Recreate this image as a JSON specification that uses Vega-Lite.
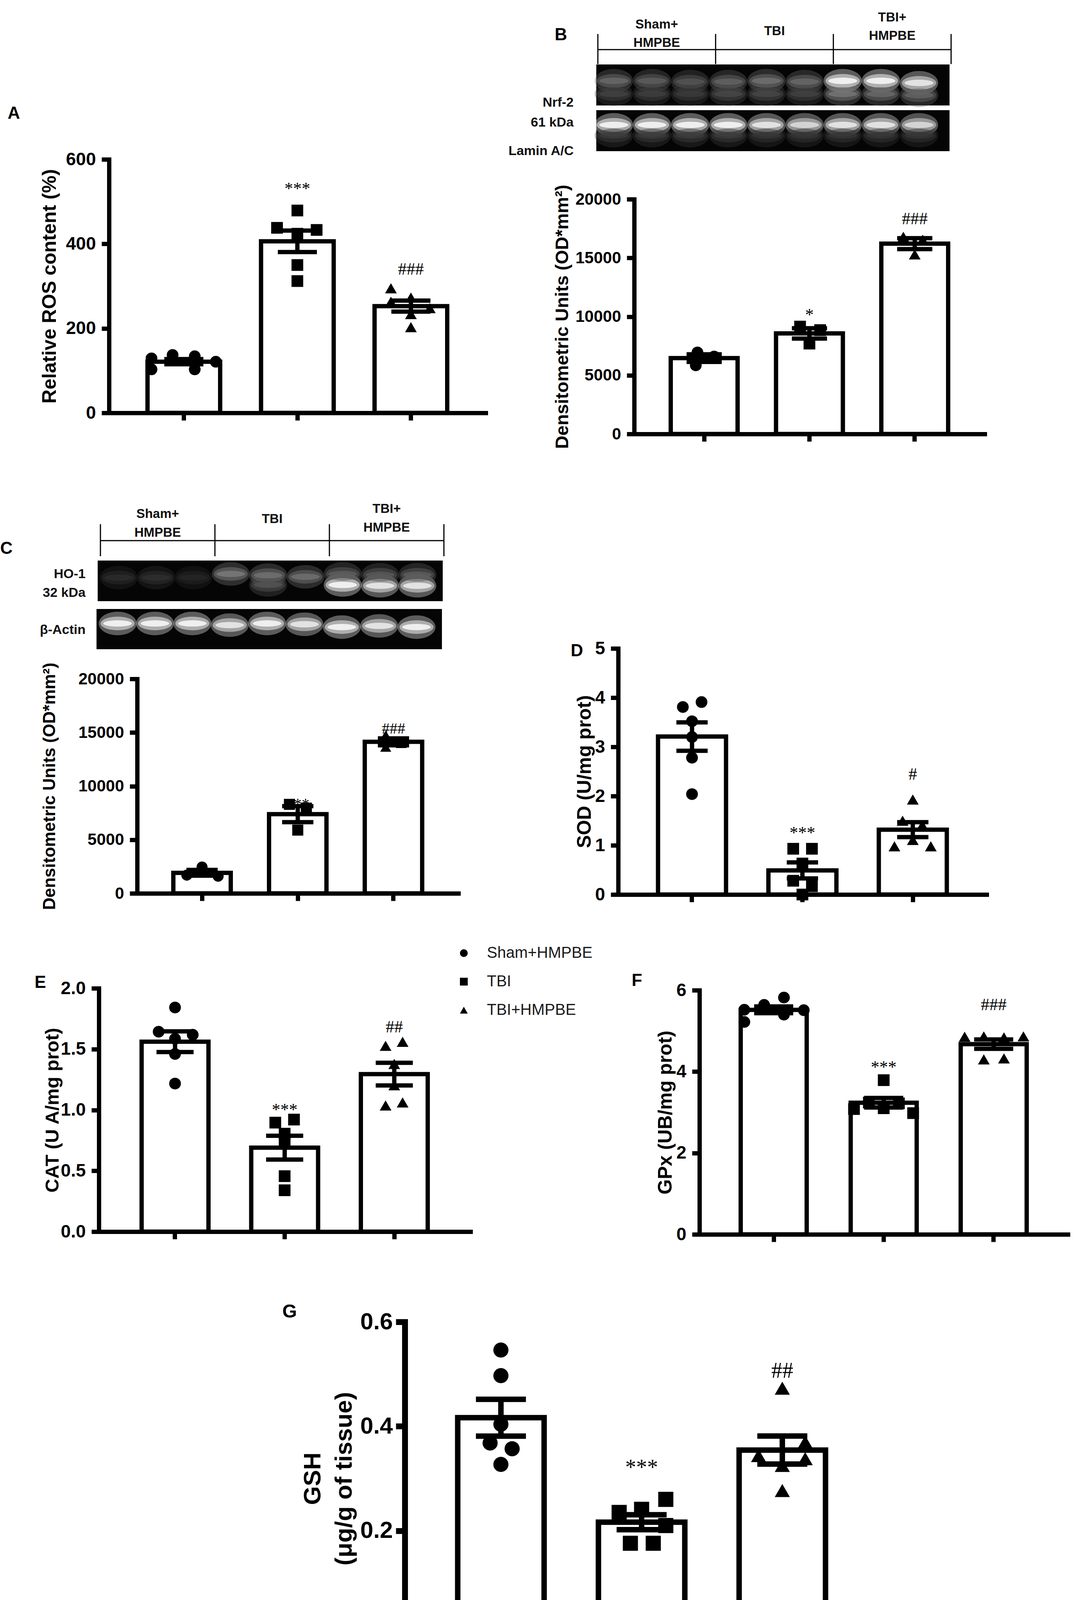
{
  "$schema": "https://vega.github.io/schema/vega-lite/v6.json",
  "width": 2769,
  "height": 4228,
  "autosize": {"type": "none"},
  "padding": 0,
  "background": "#ffffff",
  "config": {
    "font": "Liberation Sans",
    "view": {"stroke": null},
    "axis": {"domainColor": "#000", "domainWidth": 11, "domainCap": "square", "tickColor": "#000", "tickWidth": 11, "tickSize": 19, "labelColor": "#000", "labelFont": "Liberation Sans", "labelFontWeight": "bold", "labelFontSize": 46, "labelPadding": 15, "labelOverlap": false, "titleColor": "#000", "titleFont": "Liberation Sans", "titleFontWeight": "bold", "grid": false, "zindex": 1},
    "axisX": {"labels": false, "titleAlign": "left", "titleBaseline": "alphabetic", "titleFontSize": 44},
    "axisY": {"titleAngle": -90, "titleAlign": "center", "titleBaseline": "middle"}
  },
  "datasets": {
    "pts": [
      {"panel": "A", "group": "Sham+HMPBE", "value": 129, "jitter": -0.89},
      {"panel": "A", "group": "Sham+HMPBE", "value": 103, "jitter": -0.89},
      {"panel": "A", "group": "Sham+HMPBE", "value": 137, "jitter": -0.31},
      {"panel": "A", "group": "Sham+HMPBE", "value": 134, "jitter": 0.3},
      {"panel": "A", "group": "Sham+HMPBE", "value": 103, "jitter": 0.3},
      {"panel": "A", "group": "Sham+HMPBE", "value": 121, "jitter": 0.88},
      {"panel": "A", "group": "TBI", "value": 479, "jitter": 0},
      {"panel": "A", "group": "TBI", "value": 438, "jitter": -0.56},
      {"panel": "A", "group": "TBI", "value": 433, "jitter": 0.53},
      {"panel": "A", "group": "TBI", "value": 424, "jitter": 0},
      {"panel": "A", "group": "TBI", "value": 350, "jitter": 0},
      {"panel": "A", "group": "TBI", "value": 312, "jitter": 0},
      {"panel": "A", "group": "TBI+HMPBE", "value": 295, "jitter": -0.55},
      {"panel": "A", "group": "TBI+HMPBE", "value": 263, "jitter": -0.55},
      {"panel": "A", "group": "TBI+HMPBE", "value": 273, "jitter": 0},
      {"panel": "A", "group": "TBI+HMPBE", "value": 248, "jitter": 0.52},
      {"panel": "A", "group": "TBI+HMPBE", "value": 234, "jitter": 0},
      {"panel": "A", "group": "TBI+HMPBE", "value": 203, "jitter": 0},
      {"panel": "B", "group": "Sham+HMPBE", "value": 6950, "jitter": -0.2},
      {"panel": "B", "group": "Sham+HMPBE", "value": 6600, "jitter": 0.3},
      {"panel": "B", "group": "Sham+HMPBE", "value": 5850, "jitter": -0.25},
      {"panel": "B", "group": "TBI", "value": 9150, "jitter": -0.28},
      {"panel": "B", "group": "TBI", "value": 8850, "jitter": 0.32},
      {"panel": "B", "group": "TBI", "value": 7700, "jitter": 0},
      {"panel": "B", "group": "TBI+HMPBE", "value": 16800, "jitter": -0.34},
      {"panel": "B", "group": "TBI+HMPBE", "value": 16550, "jitter": 0.24},
      {"panel": "B", "group": "TBI+HMPBE", "value": 15300, "jitter": 0},
      {"panel": "C", "group": "Sham+HMPBE", "value": 2450, "jitter": 0},
      {"panel": "C", "group": "Sham+HMPBE", "value": 1700, "jitter": -0.53},
      {"panel": "C", "group": "Sham+HMPBE", "value": 1600, "jitter": 0.56},
      {"panel": "C", "group": "TBI", "value": 8300, "jitter": -0.29},
      {"panel": "C", "group": "TBI", "value": 7950, "jitter": 0.3},
      {"panel": "C", "group": "TBI", "value": 5900, "jitter": 0},
      {"panel": "C", "group": "TBI+HMPBE", "value": 14750, "jitter": -0.27},
      {"panel": "C", "group": "TBI+HMPBE", "value": 14000, "jitter": 0.27},
      {"panel": "C", "group": "TBI+HMPBE", "value": 13650, "jitter": -0.27},
      {"panel": "D", "group": "Sham+HMPBE", "value": 3.81, "jitter": -0.27},
      {"panel": "D", "group": "Sham+HMPBE", "value": 3.91, "jitter": 0.28},
      {"panel": "D", "group": "Sham+HMPBE", "value": 3.52, "jitter": 0},
      {"panel": "D", "group": "Sham+HMPBE", "value": 3.2, "jitter": 0},
      {"panel": "D", "group": "Sham+HMPBE", "value": 2.78, "jitter": 0},
      {"panel": "D", "group": "Sham+HMPBE", "value": 2.04, "jitter": 0},
      {"panel": "D", "group": "TBI", "value": 0.93, "jitter": -0.27},
      {"panel": "D", "group": "TBI", "value": 0.93, "jitter": 0.28},
      {"panel": "D", "group": "TBI", "value": 0.63, "jitter": 0},
      {"panel": "D", "group": "TBI", "value": 0.28, "jitter": -0.27},
      {"panel": "D", "group": "TBI", "value": 0.17, "jitter": 0.28},
      {"panel": "D", "group": "TBI", "value": 0.0, "jitter": 0},
      {"panel": "D", "group": "TBI+HMPBE", "value": 1.93, "jitter": 0},
      {"panel": "D", "group": "TBI+HMPBE", "value": 1.5, "jitter": -0.3},
      {"panel": "D", "group": "TBI+HMPBE", "value": 1.41, "jitter": 0.28},
      {"panel": "D", "group": "TBI+HMPBE", "value": 1.11, "jitter": 0},
      {"panel": "D", "group": "TBI+HMPBE", "value": 0.98, "jitter": -0.54},
      {"panel": "D", "group": "TBI+HMPBE", "value": 0.98, "jitter": 0.53},
      {"panel": "E", "group": "Sham+HMPBE", "value": 1.842, "jitter": 0},
      {"panel": "E", "group": "Sham+HMPBE", "value": 1.643, "jitter": -0.49},
      {"panel": "E", "group": "Sham+HMPBE", "value": 1.618, "jitter": 0.53},
      {"panel": "E", "group": "Sham+HMPBE", "value": 1.585, "jitter": 0},
      {"panel": "E", "group": "Sham+HMPBE", "value": 1.46, "jitter": 0},
      {"panel": "E", "group": "Sham+HMPBE", "value": 1.217, "jitter": 0},
      {"panel": "E", "group": "TBI", "value": 0.896, "jitter": -0.28},
      {"panel": "E", "group": "TBI", "value": 0.921, "jitter": 0.28},
      {"panel": "E", "group": "TBI", "value": 0.805, "jitter": 0},
      {"panel": "E", "group": "TBI", "value": 0.722, "jitter": 0},
      {"panel": "E", "group": "TBI", "value": 0.456, "jitter": 0},
      {"panel": "E", "group": "TBI", "value": 0.34, "jitter": 0},
      {"panel": "E", "group": "TBI+HMPBE", "value": 1.527, "jitter": -0.26},
      {"panel": "E", "group": "TBI+HMPBE", "value": 1.56, "jitter": 0.25},
      {"panel": "E", "group": "TBI+HMPBE", "value": 1.378, "jitter": 0},
      {"panel": "E", "group": "TBI+HMPBE", "value": 1.203, "jitter": 0},
      {"panel": "E", "group": "TBI+HMPBE", "value": 1.062, "jitter": 0.25},
      {"panel": "E", "group": "TBI+HMPBE", "value": 1.037, "jitter": -0.26},
      {"panel": "F", "group": "Sham+HMPBE", "value": 5.82, "jitter": 0.31},
      {"panel": "F", "group": "Sham+HMPBE", "value": 5.64, "jitter": -0.29},
      {"panel": "F", "group": "Sham+HMPBE", "value": 5.52, "jitter": -0.89},
      {"panel": "F", "group": "Sham+HMPBE", "value": 5.51, "jitter": 0.91},
      {"panel": "F", "group": "Sham+HMPBE", "value": 5.4, "jitter": 0.31},
      {"panel": "F", "group": "Sham+HMPBE", "value": 5.22, "jitter": -0.89},
      {"panel": "F", "group": "TBI", "value": 3.79, "jitter": 0},
      {"panel": "F", "group": "TBI", "value": 3.24, "jitter": -0.45},
      {"panel": "F", "group": "TBI", "value": 3.22, "jitter": 0.46},
      {"panel": "F", "group": "TBI", "value": 3.1, "jitter": 0},
      {"panel": "F", "group": "TBI", "value": 3.08, "jitter": -0.9},
      {"panel": "F", "group": "TBI", "value": 2.98, "jitter": 0.89},
      {"panel": "F", "group": "TBI+HMPBE", "value": 4.857, "jitter": -0.88},
      {"panel": "F", "group": "TBI+HMPBE", "value": 4.866, "jitter": -0.3},
      {"panel": "F", "group": "TBI+HMPBE", "value": 4.84, "jitter": 0.31},
      {"panel": "F", "group": "TBI+HMPBE", "value": 4.866, "jitter": 0.9},
      {"panel": "F", "group": "TBI+HMPBE", "value": 4.3, "jitter": -0.3},
      {"panel": "F", "group": "TBI+HMPBE", "value": 4.325, "jitter": 0.31},
      {"panel": "G", "group": "Sham+HMPBE", "value": 0.546, "jitter": 0},
      {"panel": "G", "group": "Sham+HMPBE", "value": 0.497, "jitter": 0},
      {"panel": "G", "group": "Sham+HMPBE", "value": 0.404, "jitter": 0},
      {"panel": "G", "group": "Sham+HMPBE", "value": 0.368, "jitter": -0.25},
      {"panel": "G", "group": "Sham+HMPBE", "value": 0.357, "jitter": 0.26},
      {"panel": "G", "group": "Sham+HMPBE", "value": 0.327, "jitter": 0},
      {"panel": "G", "group": "TBI", "value": 0.26, "jitter": 0.56},
      {"panel": "G", "group": "TBI", "value": 0.241, "jitter": 0},
      {"panel": "G", "group": "TBI", "value": 0.235, "jitter": -0.52},
      {"panel": "G", "group": "TBI", "value": 0.21, "jitter": 0.56},
      {"panel": "G", "group": "TBI", "value": 0.176, "jitter": -0.26},
      {"panel": "G", "group": "TBI", "value": 0.176, "jitter": 0.27},
      {"panel": "G", "group": "TBI+HMPBE", "value": 0.473, "jitter": 0},
      {"panel": "G", "group": "TBI+HMPBE", "value": 0.37, "jitter": 0.53},
      {"panel": "G", "group": "TBI+HMPBE", "value": 0.344, "jitter": -0.55},
      {"panel": "G", "group": "TBI+HMPBE", "value": 0.338, "jitter": 0.53},
      {"panel": "G", "group": "TBI+HMPBE", "value": 0.325, "jitter": 0},
      {"panel": "G", "group": "TBI+HMPBE", "value": 0.277, "jitter": 0}
    ],
    "ann": [
      {"panel": "A", "group": "TBI", "label": "***", "y": 530},
      {"panel": "A", "group": "TBI+HMPBE", "label": "###", "y": 339},
      {"panel": "B", "group": "TBI", "label": "*", "y": 10100},
      {"panel": "B", "group": "TBI+HMPBE", "label": "###", "y": 18295},
      {"panel": "C", "group": "TBI", "label": "***", "y": 8300},
      {"panel": "C", "group": "TBI+HMPBE", "label": "###", "y": 15320},
      {"panel": "D", "group": "TBI", "label": "***", "y": 1.25},
      {"panel": "D", "group": "TBI+HMPBE", "label": "#", "y": 2.44},
      {"panel": "E", "group": "TBI", "label": "***", "y": 1.0},
      {"panel": "E", "group": "TBI+HMPBE", "label": "##", "y": 1.68},
      {"panel": "F", "group": "TBI", "label": "***", "y": 4.1},
      {"panel": "F", "group": "TBI+HMPBE", "label": "###", "y": 5.64},
      {"panel": "G", "group": "TBI", "label": "***", "y": 0.32},
      {"panel": "G", "group": "TBI+HMPBE", "label": "##", "y": 0.506}
    ],
    "bands": [
      {"blot": "Nrf-2", "lane": 1, "rf": 0.4, "intensity": 0.45},
      {"blot": "Nrf-2", "lane": 2, "rf": 0.4, "intensity": 0.4},
      {"blot": "Nrf-2", "lane": 3, "rf": 0.42, "intensity": 0.36},
      {"blot": "Nrf-2", "lane": 4, "rf": 0.42, "intensity": 0.42},
      {"blot": "Nrf-2", "lane": 5, "rf": 0.4, "intensity": 0.48},
      {"blot": "Nrf-2", "lane": 6, "rf": 0.42, "intensity": 0.45},
      {"blot": "Nrf-2", "lane": 7, "rf": 0.4, "intensity": 1.0},
      {"blot": "Nrf-2", "lane": 8, "rf": 0.4, "intensity": 1.0},
      {"blot": "Nrf-2", "lane": 9, "rf": 0.45, "intensity": 0.95},
      {"blot": "Nrf-2", "lane": 1, "rf": 0.72, "intensity": 0.28},
      {"blot": "Nrf-2", "lane": 2, "rf": 0.72, "intensity": 0.27},
      {"blot": "Nrf-2", "lane": 3, "rf": 0.72, "intensity": 0.25},
      {"blot": "Nrf-2", "lane": 4, "rf": 0.72, "intensity": 0.3},
      {"blot": "Nrf-2", "lane": 5, "rf": 0.72, "intensity": 0.3},
      {"blot": "Nrf-2", "lane": 6, "rf": 0.72, "intensity": 0.28},
      {"blot": "Nrf-2", "lane": 7, "rf": 0.72, "intensity": 0.5},
      {"blot": "Nrf-2", "lane": 8, "rf": 0.72, "intensity": 0.45},
      {"blot": "Nrf-2", "lane": 9, "rf": 0.75, "intensity": 0.42},
      {"blot": "Lamin A/C", "lane": 1, "rf": 0.36, "intensity": 1.0},
      {"blot": "Lamin A/C", "lane": 2, "rf": 0.36, "intensity": 1.0},
      {"blot": "Lamin A/C", "lane": 3, "rf": 0.36, "intensity": 1.0},
      {"blot": "Lamin A/C", "lane": 4, "rf": 0.36, "intensity": 1.0},
      {"blot": "Lamin A/C", "lane": 5, "rf": 0.36, "intensity": 0.95},
      {"blot": "Lamin A/C", "lane": 6, "rf": 0.36, "intensity": 0.9},
      {"blot": "Lamin A/C", "lane": 7, "rf": 0.36, "intensity": 0.95},
      {"blot": "Lamin A/C", "lane": 8, "rf": 0.36, "intensity": 0.95},
      {"blot": "Lamin A/C", "lane": 9, "rf": 0.36, "intensity": 0.9},
      {"blot": "Lamin A/C", "lane": 1, "rf": 0.62, "intensity": 0.25},
      {"blot": "Lamin A/C", "lane": 2, "rf": 0.62, "intensity": 0.25},
      {"blot": "Lamin A/C", "lane": 3, "rf": 0.62, "intensity": 0.25},
      {"blot": "Lamin A/C", "lane": 4, "rf": 0.62, "intensity": 0.25},
      {"blot": "Lamin A/C", "lane": 5, "rf": 0.62, "intensity": 0.22},
      {"blot": "Lamin A/C", "lane": 6, "rf": 0.62, "intensity": 0.22},
      {"blot": "Lamin A/C", "lane": 7, "rf": 0.62, "intensity": 0.22},
      {"blot": "Lamin A/C", "lane": 8, "rf": 0.62, "intensity": 0.22},
      {"blot": "Lamin A/C", "lane": 9, "rf": 0.62, "intensity": 0.22},
      {"blot": "HO-1", "lane": 1, "rf": 0.42, "intensity": 0.18},
      {"blot": "HO-1", "lane": 2, "rf": 0.42, "intensity": 0.2},
      {"blot": "HO-1", "lane": 3, "rf": 0.42, "intensity": 0.15},
      {"blot": "HO-1", "lane": 4, "rf": 0.33, "intensity": 0.52},
      {"blot": "HO-1", "lane": 5, "rf": 0.36, "intensity": 0.48},
      {"blot": "HO-1", "lane": 5, "rf": 0.6, "intensity": 0.35},
      {"blot": "HO-1", "lane": 6, "rf": 0.4, "intensity": 0.48},
      {"blot": "HO-1", "lane": 7, "rf": 0.6, "intensity": 1.0},
      {"blot": "HO-1", "lane": 8, "rf": 0.62, "intensity": 0.95},
      {"blot": "HO-1", "lane": 9, "rf": 0.62, "intensity": 0.95},
      {"blot": "HO-1", "lane": 7, "rf": 0.33, "intensity": 0.4},
      {"blot": "HO-1", "lane": 8, "rf": 0.35, "intensity": 0.38},
      {"blot": "HO-1", "lane": 9, "rf": 0.35, "intensity": 0.4},
      {"blot": "β-Actin", "lane": 1, "rf": 0.36, "intensity": 1.0},
      {"blot": "β-Actin", "lane": 2, "rf": 0.36, "intensity": 1.0},
      {"blot": "β-Actin", "lane": 3, "rf": 0.36, "intensity": 1.0},
      {"blot": "β-Actin", "lane": 4, "rf": 0.4, "intensity": 0.95},
      {"blot": "β-Actin", "lane": 5, "rf": 0.36, "intensity": 1.0},
      {"blot": "β-Actin", "lane": 6, "rf": 0.38, "intensity": 0.95},
      {"blot": "β-Actin", "lane": 7, "rf": 0.45, "intensity": 1.0},
      {"blot": "β-Actin", "lane": 8, "rf": 0.42, "intensity": 0.95},
      {"blot": "β-Actin", "lane": 9, "rf": 0.45, "intensity": 1.0}
    ],
    "hdr": [
      {"blot": "B", "group": "Sham+HMPBE", "lane": 2, "text": ["Sham+", "HMPBE"]},
      {"blot": "B", "group": "TBI", "lane": 5, "text": ["TBI"]},
      {"blot": "B", "group": "TBI+HMPBE", "lane": 8, "text": ["TBI+", "HMPBE"]},
      {"blot": "C", "group": "Sham+HMPBE", "lane": 2, "text": ["Sham+", "HMPBE"]},
      {"blot": "C", "group": "TBI", "lane": 5, "text": ["TBI"]},
      {"blot": "C", "group": "TBI+HMPBE", "lane": 8, "text": ["TBI+", "HMPBE"]}
    ],
    "bnd": [
      {"blot": "B", "b": 0.5}, {"blot": "B", "b": 3.5}, {"blot": "B", "b": 6.5}, {"blot": "B", "b": 9.5},
      {"blot": "C", "b": 0.5}, {"blot": "C", "b": 3.5}, {"blot": "C", "b": 6.5}, {"blot": "C", "b": 9.5}
    ],
    "lbl": [
      {"blot": "B", "key": "Nrf-2", "label": ["Nrf-2", "61 kDa"]},
      {"blot": "B", "key": "Lamin A/C", "label": "Lamin A/C"},
      {"blot": "C", "key": "HO-1", "label": ["HO-1", "32 kDa"]},
      {"blot": "C", "key": "β-Actin", "label": "β-Actin"}
    ]
  },
  "resolve": {
    "scale": {"x": "independent", "y": "independent", "xOffset": "independent", "shape": "independent", "color": "independent"},
    "axis": {"x": "independent", "y": "independent"},
    "legend": {"shape": "independent", "color": "independent"}
  },
  "layer": [
    {
      "data": {"name": "pts"},
      "transform": [{"filter": "datum.panel === 'A'"}],
      "resolve": {"scale": {"xOffset": "independent"}},
      "encoding": {
        "x": {"field": "group", "type": "nominal", "sort": ["Sham+HMPBE", "TBI", "TBI+HMPBE"],
          "scale": {"type": "band", "domain": ["Sham+HMPBE", "TBI", "TBI+HMPBE"], "range": [279, 1243], "paddingInner": 0.36, "paddingOuter": 0.339},
          "axis": {"orient": "bottom", "offset": -3171, "title": "A", "titleX": 19, "titleY": -754}}
      },
      "layer": [
        {"mark": {"type": "bar", "fill": "#fff", "stroke": "#000", "strokeWidth": 11},
          "encoding": {"y": {"aggregate": "mean", "field": "value", "type": "quantitative", "scale": {"domain": [0, 600], "range": [1057, 408]},
            "axis": {"orient": "left", "offset": -279, "values": [0, 200, 400, 600], "format": "d", "title": "Relative ROS content (%)", "titleX": -152, "titleY": 732.5, "titleFontSize": 50, "labelFontSize": 46}}}},
        {"mark": {"type": "point", "filled": true, "color": "#000", "opacity": 1, "size": 900, "strokeWidth": 0},
          "encoding": {"y": {"field": "value", "type": "quantitative", "scale": {"domain": [0, 600], "range": [1057, 408]},
            "axis": {"orient": "left", "offset": -279, "values": [0, 200, 400, 600], "format": "d", "title": "Relative ROS content (%)", "titleX": -152, "titleY": 732.5, "titleFontSize": 50, "labelFontSize": 46}},
            "xOffset": {"field": "jitter", "type": "quantitative", "scale": {"domain": [-1, 1], "range": [0, 186]}},
            "shape": {"field": "group", "type": "nominal", "scale": {"domain": ["Sham+HMPBE", "TBI", "TBI+HMPBE"], "range": ["circle", "square", "triangle-up"]}, "legend": null}}},
        {"mark": {"type": "errorbar", "extent": "stderr", "ticks": {"color": "#000", "opacity": 1}, "rule": {"color": "#000", "opacity": 1}, "size": 100, "thickness": 11, "color": "#000"},
          "encoding": {"y": {"field": "value", "type": "quantitative", "scale": {"domain": [0, 600], "range": [1057, 408]},
            "axis": {"orient": "left", "offset": -279, "values": [0, 200, 400, 600], "format": "d", "title": "Relative ROS content (%)", "titleX": -152, "titleY": 732.5, "titleFontSize": 50, "labelFontSize": 46}}}},
        {"data": {"name": "ann"}, "transform": [{"filter": "datum.panel === 'A'"}],
          "mark": {"type": "text", "font": "Liberation Serif", "fontSize": 44, "baseline": "middle", "color": "#000"},
          "encoding": {"y": {"field": "y", "type": "quantitative", "scale": {"domain": [0, 600], "range": [1057, 408]},
            "axis": {"orient": "left", "offset": -279, "values": [0, 200, 400, 600], "format": "d", "title": "Relative ROS content (%)", "titleX": -152, "titleY": 732.5, "titleFontSize": 50, "labelFontSize": 46}}, "text": {"field": "label"}}}
      ]
    },
    {
      "data": {"name": "pts"},
      "transform": [{"filter": "datum.panel === 'B'"}],
      "resolve": {"scale": {"xOffset": "independent"}},
      "encoding": {
        "x": {"field": "group", "type": "nominal", "sort": ["Sham+HMPBE", "TBI", "TBI+HMPBE"],
          "scale": {"type": "band", "domain": ["Sham+HMPBE", "TBI", "TBI+HMPBE"], "range": [1623, 2520], "paddingInner": 0.365, "paddingOuter": 0.347},
          "axis": {"orient": "bottom", "offset": -3117, "title": "B", "titleX": 1419, "titleY": -1009}}
      },
      "layer": [
        {"mark": {"type": "bar", "fill": "#fff", "stroke": "#000", "strokeWidth": 11},
          "encoding": {"y": {"aggregate": "mean", "field": "value", "type": "quantitative", "scale": {"domain": [0, 20000], "range": [1111, 510]},
            "axis": {"orient": "left", "offset": -1623, "values": [0, 5000, 10000, 15000, 20000], "format": "d", "title": "Densitometric Units (OD*mm²)", "titleX": -184, "titleY": 810.5, "titleFontSize": 47, "labelFontSize": 42}}}},
        {"mark": {"type": "point", "filled": true, "color": "#000", "opacity": 1, "size": 900, "strokeWidth": 0},
          "encoding": {"y": {"field": "value", "type": "quantitative", "scale": {"domain": [0, 20000], "range": [1111, 510]},
            "axis": {"orient": "left", "offset": -1623, "values": [0, 5000, 10000, 15000, 20000], "format": "d", "title": "Densitometric Units (OD*mm²)", "titleX": -184, "titleY": 810.5, "titleFontSize": 47, "labelFontSize": 42}},
            "xOffset": {"field": "jitter", "type": "quantitative", "scale": {"domain": [-1, 1], "range": [0, 171]}},
            "shape": {"field": "group", "type": "nominal", "scale": {"domain": ["Sham+HMPBE", "TBI", "TBI+HMPBE"], "range": ["circle", "square", "triangle-up"]}, "legend": null}}},
        {"mark": {"type": "errorbar", "extent": "stderr", "ticks": {"color": "#000", "opacity": 1}, "rule": {"color": "#000", "opacity": 1}, "size": 90, "thickness": 11, "color": "#000"},
          "encoding": {"y": {"field": "value", "type": "quantitative", "scale": {"domain": [0, 20000], "range": [1111, 510]},
            "axis": {"orient": "left", "offset": -1623, "values": [0, 5000, 10000, 15000, 20000], "format": "d", "title": "Densitometric Units (OD*mm²)", "titleX": -184, "titleY": 810.5, "titleFontSize": 47, "labelFontSize": 42}}}},
        {"data": {"name": "ann"}, "transform": [{"filter": "datum.panel === 'B'"}],
          "mark": {"type": "text", "font": "Liberation Serif", "fontSize": 44, "baseline": "middle", "color": "#000"},
          "encoding": {"y": {"field": "y", "type": "quantitative", "scale": {"domain": [0, 20000], "range": [1111, 510]},
            "axis": {"orient": "left", "offset": -1623, "values": [0, 5000, 10000, 15000, 20000], "format": "d", "title": "Densitometric Units (OD*mm²)", "titleX": -184, "titleY": 810.5, "titleFontSize": 47, "labelFontSize": 42}}, "text": {"field": "label"}}}
      ]
    },
    {
      "data": {"name": "pts"},
      "transform": [{"filter": "datum.panel === 'C'"}],
      "resolve": {"scale": {"xOffset": "independent"}},
      "encoding": {
        "x": {"field": "group", "type": "nominal", "sort": ["Sham+HMPBE", "TBI", "TBI+HMPBE"],
          "scale": {"type": "band", "domain": ["Sham+HMPBE", "TBI", "TBI+HMPBE"], "range": [351, 1173], "paddingInner": 0.4, "paddingOuter": 0.378},
          "axis": {"orient": "bottom", "offset": -1941, "title": "C", "titleX": 0, "titleY": -870}}
      },
      "layer": [
        {"mark": {"type": "bar", "fill": "#fff", "stroke": "#000", "strokeWidth": 11},
          "encoding": {"y": {"aggregate": "mean", "field": "value", "type": "quantitative", "scale": {"domain": [0, 20000], "range": [2287, 1738]},
            "axis": {"orient": "left", "offset": -351, "values": [0, 5000, 10000, 15000, 20000], "format": "d", "title": "Densitometric Units (OD*mm²)", "titleX": -224, "titleY": 2012.5, "titleFontSize": 44, "labelFontSize": 42}}}},
        {"mark": {"type": "point", "filled": true, "color": "#000", "opacity": 1, "size": 800, "strokeWidth": 0},
          "encoding": {"y": {"field": "value", "type": "quantitative", "scale": {"domain": [0, 20000], "range": [2287, 1738]},
            "axis": {"orient": "left", "offset": -351, "values": [0, 5000, 10000, 15000, 20000], "format": "d", "title": "Densitometric Units (OD*mm²)", "titleX": -224, "titleY": 2012.5, "titleFontSize": 44, "labelFontSize": 42}},
            "xOffset": {"field": "jitter", "type": "quantitative", "scale": {"domain": [-1, 1], "range": [0, 147]}},
            "shape": {"field": "group", "type": "nominal", "scale": {"domain": ["Sham+HMPBE", "TBI", "TBI+HMPBE"], "range": ["circle", "square", "triangle-up"]}, "legend": null}}},
        {"mark": {"type": "errorbar", "extent": "stderr", "ticks": {"color": "#000", "opacity": 1}, "rule": {"color": "#000", "opacity": 1}, "size": 80, "thickness": 11, "color": "#000"},
          "encoding": {"y": {"field": "value", "type": "quantitative", "scale": {"domain": [0, 20000], "range": [2287, 1738]},
            "axis": {"orient": "left", "offset": -351, "values": [0, 5000, 10000, 15000, 20000], "format": "d", "title": "Densitometric Units (OD*mm²)", "titleX": -224, "titleY": 2012.5, "titleFontSize": 44, "labelFontSize": 42}}}},
        {"data": {"name": "ann"}, "transform": [{"filter": "datum.panel === 'C'"}],
          "mark": {"type": "text", "font": "Liberation Serif", "fontSize": 40, "baseline": "middle", "color": "#000"},
          "encoding": {"y": {"field": "y", "type": "quantitative", "scale": {"domain": [0, 20000], "range": [2287, 1738]},
            "axis": {"orient": "left", "offset": -351, "values": [0, 5000, 10000, 15000, 20000], "format": "d", "title": "Densitometric Units (OD*mm²)", "titleX": -224, "titleY": 2012.5, "titleFontSize": 44, "labelFontSize": 42}}, "text": {"field": "label"}}}
      ]
    },
    {
      "data": {"name": "pts"},
      "transform": [{"filter": "datum.panel === 'D'"}],
      "resolve": {"scale": {"xOffset": "independent"}},
      "encoding": {
        "x": {"field": "group", "type": "nominal", "sort": ["Sham+HMPBE", "TBI", "TBI+HMPBE"],
          "scale": {"type": "band", "domain": ["Sham+HMPBE", "TBI", "TBI+HMPBE"], "range": [1582, 2525], "paddingInner": 0.384, "paddingOuter": 0.361},
          "axis": {"orient": "bottom", "offset": -1938, "title": "D", "titleX": 1460, "titleY": -611}}
      },
      "layer": [
        {"mark": {"type": "bar", "fill": "#fff", "stroke": "#000", "strokeWidth": 11},
          "encoding": {"y": {"aggregate": "mean", "field": "value", "type": "quantitative", "scale": {"domain": [0, 5], "range": [2290, 1660]},
            "axis": {"orient": "left", "offset": -1582, "values": [0, 1, 2, 3, 4, 5], "format": "d", "title": "SOD (U/mg prot)", "titleX": -86, "titleY": 1975, "titleFontSize": 50, "labelFontSize": 46}}}},
        {"mark": {"type": "point", "filled": true, "color": "#000", "opacity": 1, "size": 900, "strokeWidth": 0},
          "encoding": {"y": {"field": "value", "type": "quantitative", "scale": {"domain": [0, 5], "range": [2290, 1660]},
            "axis": {"orient": "left", "offset": -1582, "values": [0, 1, 2, 3, 4, 5], "format": "d", "title": "SOD (U/mg prot)", "titleX": -86, "titleY": 1975, "titleFontSize": 50, "labelFontSize": 46}},
            "xOffset": {"field": "jitter", "type": "quantitative", "scale": {"domain": [-1, 1], "range": [0, 174]}},
            "shape": {"field": "group", "type": "nominal", "scale": {"domain": ["Sham+HMPBE", "TBI", "TBI+HMPBE"], "range": ["circle", "square", "triangle-up"]}, "legend": null}}},
        {"mark": {"type": "errorbar", "extent": "stderr", "ticks": {"color": "#000", "opacity": 1}, "rule": {"color": "#000", "opacity": 1}, "size": 80, "thickness": 11, "color": "#000"},
          "encoding": {"y": {"field": "value", "type": "quantitative", "scale": {"domain": [0, 5], "range": [2290, 1660]},
            "axis": {"orient": "left", "offset": -1582, "values": [0, 1, 2, 3, 4, 5], "format": "d", "title": "SOD (U/mg prot)", "titleX": -86, "titleY": 1975, "titleFontSize": 50, "labelFontSize": 46}}}},
        {"data": {"name": "ann"}, "transform": [{"filter": "datum.panel === 'D'"}],
          "mark": {"type": "text", "font": "Liberation Serif", "fontSize": 44, "baseline": "middle", "color": "#000"},
          "encoding": {"y": {"field": "y", "type": "quantitative", "scale": {"domain": [0, 5], "range": [2290, 1660]},
            "axis": {"orient": "left", "offset": -1582, "values": [0, 1, 2, 3, 4, 5], "format": "d", "title": "SOD (U/mg prot)", "titleX": -86, "titleY": 1975, "titleFontSize": 50, "labelFontSize": 46}}, "text": {"field": "label"}}}
      ]
    },
    {
      "data": {"name": "pts"},
      "transform": [{"filter": "datum.panel === 'E'"}],
      "resolve": {"scale": {"xOffset": "independent"}},
      "encoding": {
        "x": {"field": "group", "type": "nominal", "sort": ["Sham+HMPBE", "TBI", "TBI+HMPBE"],
          "scale": {"type": "band", "domain": ["Sham+HMPBE", "TBI", "TBI+HMPBE"], "range": [253, 1204], "paddingInner": 0.39, "paddingOuter": 0.39},
          "axis": {"orient": "bottom", "offset": -1075, "title": "E", "titleX": 88, "titleY": -625}}
      },
      "layer": [
        {"mark": {"type": "bar", "fill": "#fff", "stroke": "#000", "strokeWidth": 11},
          "encoding": {"y": {"aggregate": "mean", "field": "value", "type": "quantitative", "scale": {"domain": [0, 2], "range": [3153, 2530]},
            "axis": {"orient": "left", "offset": -253, "values": [0, 0.5, 1, 1.5, 2], "format": ".1f", "title": "CAT (U A/mg prot)", "titleX": -119, "titleY": 2841.5, "titleFontSize": 49, "labelFontSize": 46}}}},
        {"mark": {"type": "point", "filled": true, "color": "#000", "opacity": 1, "size": 900, "strokeWidth": 0},
          "encoding": {"y": {"field": "value", "type": "quantitative", "scale": {"domain": [0, 2], "range": [3153, 2530]},
            "axis": {"orient": "left", "offset": -253, "values": [0, 0.5, 1, 1.5, 2], "format": ".1f", "title": "CAT (U A/mg prot)", "titleX": -119, "titleY": 2841.5, "titleFontSize": 49, "labelFontSize": 46}},
            "xOffset": {"field": "jitter", "type": "quantitative", "scale": {"domain": [-1, 1], "range": [0, 171]}},
            "shape": {"field": "group", "type": "nominal", "scale": {"domain": ["Sham+HMPBE", "TBI", "TBI+HMPBE"], "range": ["circle", "square", "triangle-up"]},
              "legend": {"orient": "none", "legendX": 1167, "legendY": 2420, "title": null, "padding": 0, "labelFont": "Liberation Sans", "labelFontSize": 40, "labelFontWeight": "normal", "labelColor": "#1a1a1a", "labelLimit": 0, "symbolSize": 400, "symbolFillColor": "#000", "symbolStrokeColor": "#000", "symbolStrokeWidth": 0, "rowPadding": 33, "labelOffset": 39}}}},
        {"mark": {"type": "errorbar", "extent": "stderr", "ticks": {"color": "#000", "opacity": 1}, "rule": {"color": "#000", "opacity": 1}, "size": 95, "thickness": 11, "color": "#000"},
          "encoding": {"y": {"field": "value", "type": "quantitative", "scale": {"domain": [0, 2], "range": [3153, 2530]},
            "axis": {"orient": "left", "offset": -253, "values": [0, 0.5, 1, 1.5, 2], "format": ".1f", "title": "CAT (U A/mg prot)", "titleX": -119, "titleY": 2841.5, "titleFontSize": 49, "labelFontSize": 46}}}},
        {"data": {"name": "ann"}, "transform": [{"filter": "datum.panel === 'E'"}],
          "mark": {"type": "text", "font": "Liberation Serif", "fontSize": 44, "baseline": "middle", "color": "#000"},
          "encoding": {"y": {"field": "y", "type": "quantitative", "scale": {"domain": [0, 2], "range": [3153, 2530]},
            "axis": {"orient": "left", "offset": -253, "values": [0, 0.5, 1, 1.5, 2], "format": ".1f", "title": "CAT (U A/mg prot)", "titleX": -119, "titleY": 2841.5, "titleFontSize": 49, "labelFontSize": 46}}, "text": {"field": "label"}}}
      ]
    },
    {
      "data": {"name": "pts"},
      "transform": [{"filter": "datum.panel === 'F'"}],
      "resolve": {"scale": {"xOffset": "independent"}},
      "encoding": {
        "x": {"field": "group", "type": "nominal", "sort": ["Sham+HMPBE", "TBI", "TBI+HMPBE"],
          "scale": {"type": "band", "domain": ["Sham+HMPBE", "TBI", "TBI+HMPBE"], "range": [1790, 2733], "paddingInner": 0.4, "paddingOuter": 0.375},
          "axis": {"orient": "bottom", "offset": -1068, "title": "F", "titleX": 1616, "titleY": -637}}
      },
      "layer": [
        {"mark": {"type": "bar", "fill": "#fff", "stroke": "#000", "strokeWidth": 11},
          "encoding": {"y": {"aggregate": "mean", "field": "value", "type": "quantitative", "scale": {"domain": [0, 6], "range": [3160, 2535]},
            "axis": {"orient": "left", "offset": -1790, "values": [0, 2, 4, 6], "format": "d", "title": "GPx (UB/mg prot)", "titleX": -87, "titleY": 2847.5, "titleFontSize": 50, "labelFontSize": 46}}}},
        {"mark": {"type": "point", "filled": true, "color": "#000", "opacity": 1, "size": 900, "strokeWidth": 0},
          "encoding": {"y": {"field": "value", "type": "quantitative", "scale": {"domain": [0, 6], "range": [3160, 2535]},
            "axis": {"orient": "left", "offset": -1790, "values": [0, 2, 4, 6], "format": "d", "title": "GPx (UB/mg prot)", "titleX": -87, "titleY": 2847.5, "titleFontSize": 50, "labelFontSize": 46}},
            "xOffset": {"field": "jitter", "type": "quantitative", "scale": {"domain": [-1, 1], "range": [0, 169]}},
            "shape": {"field": "group", "type": "nominal", "scale": {"domain": ["Sham+HMPBE", "TBI", "TBI+HMPBE"], "range": ["circle", "square", "triangle-up"]}, "legend": null}}},
        {"mark": {"type": "errorbar", "extent": "stderr", "ticks": {"color": "#000", "opacity": 1}, "rule": {"color": "#000", "opacity": 1}, "size": 100, "thickness": 11, "color": "#000"},
          "encoding": {"y": {"field": "value", "type": "quantitative", "scale": {"domain": [0, 6], "range": [3160, 2535]},
            "axis": {"orient": "left", "offset": -1790, "values": [0, 2, 4, 6], "format": "d", "title": "GPx (UB/mg prot)", "titleX": -87, "titleY": 2847.5, "titleFontSize": 50, "labelFontSize": 46}}}},
        {"data": {"name": "ann"}, "transform": [{"filter": "datum.panel === 'F'"}],
          "mark": {"type": "text", "font": "Liberation Serif", "fontSize": 44, "baseline": "middle", "color": "#000"},
          "encoding": {"y": {"field": "y", "type": "quantitative", "scale": {"domain": [0, 6], "range": [3160, 2535]},
            "axis": {"orient": "left", "offset": -1790, "values": [0, 2, 4, 6], "format": "d", "title": "GPx (UB/mg prot)", "titleX": -87, "titleY": 2847.5, "titleFontSize": 50, "labelFontSize": 46}}, "text": {"field": "label"}}}
      ]
    },
    {
      "data": {"name": "pts"},
      "transform": [{"filter": "datum.panel === 'G'"}],
      "resolve": {"scale": {"xOffset": "independent"}},
      "encoding": {
        "x": {"field": "group", "type": "nominal", "sort": ["Sham+HMPBE", "TBI", "TBI+HMPBE"],
          "scale": {"type": "band", "domain": ["Sham+HMPBE", "TBI", "TBI+HMPBE"], "range": [1036, 2248], "paddingInner": 0.386, "paddingOuter": 0.376},
          "axis": {"orient": "bottom", "offset": -42, "title": "G", "titleX": 722, "titleY": -814, "titleFontSize": 48, "domainWidth": 15, "tickWidth": 15, "tickSize": 23}}
      },
      "layer": [
        {"mark": {"type": "bar", "fill": "#fff", "stroke": "#000", "strokeWidth": 14},
          "encoding": {"y": {"aggregate": "mean", "field": "value", "type": "quantitative", "scale": {"domain": [0, 0.6], "range": [4186, 3384]},
            "axis": {"orient": "left", "offset": -1036, "values": [0, 0.2, 0.4, 0.6], "format": ".1f", "title": ["GSH", "(μg/g of tissue)"], "titleX": -236, "titleY": 3785, "titleFontSize": 62, "titleLineHeight": 80, "labelFontSize": 60, "labelPadding": 8, "domainWidth": 15, "tickWidth": 15, "tickSize": 23}}}},
        {"mark": {"type": "point", "filled": true, "color": "#000", "opacity": 1, "size": 1500, "strokeWidth": 0},
          "encoding": {"y": {"field": "value", "type": "quantitative", "scale": {"domain": [0, 0.6], "range": [4186, 3384]},
            "axis": {"orient": "left", "offset": -1036, "values": [0, 0.2, 0.4, 0.6], "format": ".1f", "title": ["GSH", "(μg/g of tissue)"], "titleX": -236, "titleY": 3785, "titleFontSize": 62, "titleLineHeight": 80, "labelFontSize": 60, "labelPadding": 8, "domainWidth": 15, "tickWidth": 15, "tickSize": 23}},
            "xOffset": {"field": "jitter", "type": "quantitative", "scale": {"domain": [-1, 1], "range": [0, 221]}},
            "shape": {"field": "group", "type": "nominal", "scale": {"domain": ["Sham+HMPBE", "TBI", "TBI+HMPBE"], "range": ["circle", "square", "triangle-up"]}, "legend": null}}},
        {"mark": {"type": "errorbar", "extent": "stderr", "ticks": {"color": "#000", "opacity": 1}, "rule": {"color": "#000", "opacity": 1}, "size": 128, "thickness": 14, "color": "#000"},
          "encoding": {"y": {"field": "value", "type": "quantitative", "scale": {"domain": [0, 0.6], "range": [4186, 3384]},
            "axis": {"orient": "left", "offset": -1036, "values": [0, 0.2, 0.4, 0.6], "format": ".1f", "title": ["GSH", "(μg/g of tissue)"], "titleX": -236, "titleY": 3785, "titleFontSize": 62, "titleLineHeight": 80, "labelFontSize": 60, "labelPadding": 8, "domainWidth": 15, "tickWidth": 15, "tickSize": 23}}}},
        {"data": {"name": "ann"}, "transform": [{"filter": "datum.panel === 'G'"}],
          "mark": {"type": "text", "font": "Liberation Serif", "fontSize": 56, "baseline": "middle", "color": "#000"},
          "encoding": {"y": {"field": "y", "type": "quantitative", "scale": {"domain": [0, 0.6], "range": [4186, 3384]},
            "axis": {"orient": "left", "offset": -1036, "values": [0, 0.2, 0.4, 0.6], "format": ".1f", "title": ["GSH", "(μg/g of tissue)"], "titleX": -236, "titleY": 3785, "titleFontSize": 62, "titleLineHeight": 80, "labelFontSize": 60, "labelPadding": 8, "domainWidth": 15, "tickWidth": 15, "tickSize": 23}}, "text": {"field": "label"}}}
      ]
    },
    {
      "encoding": {
        "x": {"field": "lane", "type": "quantitative", "scale": {"domain": [0.54, 9.8], "range": [1526, 2430]}, "axis": null},
        "y": {"field": "rf", "type": "quantitative", "scale": {"domain": [0, 1], "range": [165, 270]}, "axis": null},
        "color": {"field": "intensity", "type": "quantitative", "scale": {"domain": [0, 1], "range": ["#000000", "#ffffff"]}, "legend": null}
      },
      "layer": [
        {"data": {"values": [{"lane": 0.54, "lane2": 9.8, "rf": 0, "rf2": 1}]}, "mark": {"type": "rect", "color": "#050505"},
          "encoding": {"x2": {"field": "lane2"}, "y2": {"field": "rf2"}, "color": {"value": "#050505"}}},
        {"data": {"name": "bands"}, "transform": [{"filter": "datum.blot === 'Nrf-2'"}],
          "mark": {"type": "point", "shape": "M-1,0A1,0.62,0,1,0,1,0A1,0.62,0,1,0,-1,0Z", "filled": true, "opacity": 1, "fillOpacity": 0.35, "size": 9604, "strokeWidth": 0}},
        {"data": {"name": "bands"}, "transform": [{"filter": "datum.blot === 'Nrf-2'"}],
          "mark": {"type": "point", "shape": "M-1,0A1,0.4,0,1,0,1,0A1,0.4,0,1,0,-1,0Z", "filled": true, "opacity": 1, "fillOpacity": 0.5, "size": 7744, "strokeWidth": 0}},
        {"data": {"name": "bands"}, "transform": [{"filter": "datum.blot === 'Nrf-2'"}],
          "mark": {"type": "point", "shape": "M-1,0A1,0.22,0,1,0,1,0A1,0.22,0,1,0,-1,0Z", "filled": true, "opacity": 1, "fillOpacity": 0.8, "size": 5476, "strokeWidth": 0}}
      ]
    },
    {
      "encoding": {
        "x": {"field": "lane", "type": "quantitative", "scale": {"domain": [0.54, 9.8], "range": [1526, 2430]}, "axis": null},
        "y": {"field": "rf", "type": "quantitative", "scale": {"domain": [0, 1], "range": [282, 387]}, "axis": null},
        "color": {"field": "intensity", "type": "quantitative", "scale": {"domain": [0, 1], "range": ["#000000", "#ffffff"]}, "legend": null}
      },
      "layer": [
        {"data": {"values": [{"lane": 0.54, "lane2": 9.8, "rf": 0, "rf2": 1}]}, "mark": {"type": "rect", "color": "#050505"},
          "encoding": {"x2": {"field": "lane2"}, "y2": {"field": "rf2"}, "color": {"value": "#050505"}}},
        {"data": {"name": "bands"}, "transform": [{"filter": "datum.blot === 'Lamin A/C'"}],
          "mark": {"type": "point", "shape": "M-1,0A1,0.62,0,1,0,1,0A1,0.62,0,1,0,-1,0Z", "filled": true, "opacity": 1, "fillOpacity": 0.35, "size": 9604, "strokeWidth": 0}},
        {"data": {"name": "bands"}, "transform": [{"filter": "datum.blot === 'Lamin A/C'"}],
          "mark": {"type": "point", "shape": "M-1,0A1,0.4,0,1,0,1,0A1,0.4,0,1,0,-1,0Z", "filled": true, "opacity": 1, "fillOpacity": 0.5, "size": 7744, "strokeWidth": 0}},
        {"data": {"name": "bands"}, "transform": [{"filter": "datum.blot === 'Lamin A/C'"}],
          "mark": {"type": "point", "shape": "M-1,0A1,0.22,0,1,0,1,0A1,0.22,0,1,0,-1,0Z", "filled": true, "opacity": 1, "fillOpacity": 0.8, "size": 5476, "strokeWidth": 0}}
      ]
    },
    {
      "encoding": {
        "x": {"field": "lane", "type": "quantitative", "scale": {"domain": [0.435, 9.68], "range": [250, 1133]}, "axis": null},
        "y": {"field": "rf", "type": "quantitative", "scale": {"domain": [0, 1], "range": [1435, 1539]}, "axis": null},
        "color": {"field": "intensity", "type": "quantitative", "scale": {"domain": [0, 1], "range": ["#000000", "#ffffff"]}, "legend": null}
      },
      "layer": [
        {"data": {"values": [{"lane": 0.435, "lane2": 9.68, "rf": 0, "rf2": 1}]}, "mark": {"type": "rect", "color": "#050505"},
          "encoding": {"x2": {"field": "lane2"}, "y2": {"field": "rf2"}, "color": {"value": "#050505"}}},
        {"data": {"name": "bands"}, "transform": [{"filter": "datum.blot === 'HO-1'"}],
          "mark": {"type": "point", "shape": "M-1,0A1,0.62,0,1,0,1,0A1,0.62,0,1,0,-1,0Z", "filled": true, "opacity": 1, "fillOpacity": 0.35, "size": 9409, "strokeWidth": 0}},
        {"data": {"name": "bands"}, "transform": [{"filter": "datum.blot === 'HO-1'"}],
          "mark": {"type": "point", "shape": "M-1,0A1,0.4,0,1,0,1,0A1,0.4,0,1,0,-1,0Z", "filled": true, "opacity": 1, "fillOpacity": 0.5, "size": 7569, "strokeWidth": 0}},
        {"data": {"name": "bands"}, "transform": [{"filter": "datum.blot === 'HO-1'"}],
          "mark": {"type": "point", "shape": "M-1,0A1,0.22,0,1,0,1,0A1,0.22,0,1,0,-1,0Z", "filled": true, "opacity": 1, "fillOpacity": 0.8, "size": 5329, "strokeWidth": 0}}
      ]
    },
    {
      "encoding": {
        "x": {"field": "lane", "type": "quantitative", "scale": {"domain": [0.435, 9.68], "range": [247, 1131]}, "axis": null},
        "y": {"field": "rf", "type": "quantitative", "scale": {"domain": [0, 1], "range": [1559, 1662]}, "axis": null},
        "color": {"field": "intensity", "type": "quantitative", "scale": {"domain": [0, 1], "range": ["#000000", "#ffffff"]}, "legend": null}
      },
      "layer": [
        {"data": {"values": [{"lane": 0.435, "lane2": 9.68, "rf": 0, "rf2": 1}]}, "mark": {"type": "rect", "color": "#050505"},
          "encoding": {"x2": {"field": "lane2"}, "y2": {"field": "rf2"}, "color": {"value": "#050505"}}},
        {"data": {"name": "bands"}, "transform": [{"filter": "datum.blot === 'β-Actin'"}],
          "mark": {"type": "point", "shape": "M-1,0A1,0.62,0,1,0,1,0A1,0.62,0,1,0,-1,0Z", "filled": true, "opacity": 1, "fillOpacity": 0.35, "size": 9409, "strokeWidth": 0}},
        {"data": {"name": "bands"}, "transform": [{"filter": "datum.blot === 'β-Actin'"}],
          "mark": {"type": "point", "shape": "M-1,0A1,0.4,0,1,0,1,0A1,0.4,0,1,0,-1,0Z", "filled": true, "opacity": 1, "fillOpacity": 0.5, "size": 7569, "strokeWidth": 0}},
        {"data": {"name": "bands"}, "transform": [{"filter": "datum.blot === 'β-Actin'"}],
          "mark": {"type": "point", "shape": "M-1,0A1,0.22,0,1,0,1,0A1,0.22,0,1,0,-1,0Z", "filled": true, "opacity": 1, "fillOpacity": 0.8, "size": 5329, "strokeWidth": 0}}
      ]
    },
    {
      "data": {"name": "lbl"}, "transform": [{"filter": "datum.blot === 'B'"}],
      "mark": {"type": "text", "fontSize": 34, "fontWeight": "bold", "lineHeight": 51, "baseline": "middle", "align": "right", "dx": -58, "color": "#111"},
      "encoding": {
        "x": {"datum": 0.54, "type": "quantitative", "scale": {"domain": [0.54, 9.8], "range": [1526, 2430]}, "axis": null},
        "y": {"field": "key", "type": "nominal", "scale": {"type": "point", "domain": ["Nrf-2", "Lamin A/C"], "range": [263, 387], "padding": 0}, "axis": null},
        "text": {"field": "label"}
      }
    },
    {
      "data": {"name": "lbl"}, "transform": [{"filter": "datum.blot === 'C'"}],
      "mark": {"type": "text", "fontSize": 34, "fontWeight": "bold", "lineHeight": 48, "baseline": "middle", "align": "right", "dx": -31, "color": "#111"},
      "encoding": {
        "x": {"datum": 0.435, "type": "quantitative", "scale": {"domain": [0.435, 9.68], "range": [250, 1133]}, "axis": null},
        "y": {"field": "key", "type": "nominal", "scale": {"type": "point", "domain": ["HO-1", "β-Actin"], "range": [1470, 1613], "padding": 0}, "axis": null},
        "text": {"field": "label"}
      }
    },
    {
      "layer": [
        {"data": {"name": "bnd"}, "transform": [{"filter": "datum.blot === 'B'"}],
          "mark": {"type": "rule", "strokeWidth": 3, "color": "#000"},
          "encoding": {"x": {"field": "b", "type": "quantitative", "scale": {"domain": [0.5, 9.5], "range": [1530, 2434]}, "axis": null},
            "y": {"datum": 0, "type": "quantitative", "scale": {"domain": [0, 1], "range": [87, 164]}, "axis": null},
            "y2": {"datum": 1}}},
        {"data": {"values": [{}]},
          "mark": {"type": "rule", "strokeWidth": 3, "color": "#000"},
          "encoding": {"x": {"datum": 0.5, "type": "quantitative", "scale": {"domain": [0.5, 9.5], "range": [1530, 2434]}, "axis": null},
            "x2": {"datum": 9.5},
            "y": {"datum": 0.519, "type": "quantitative", "scale": {"domain": [0, 1], "range": [87, 164]}, "axis": null}}}
      ]
    },
    {
      "data": {"name": "hdr"}, "transform": [{"filter": "datum.blot === 'B'"}],
      "mark": {"type": "text", "fontSize": 33, "fontWeight": "bold", "lineHeight": 47, "baseline": "middle", "align": "center", "color": "#111"},
      "encoding": {
        "x": {"field": "lane", "type": "quantitative", "scale": {"domain": [0.5, 9.5], "range": [1530, 2434]}, "axis": null},
        "y": {"field": "group", "type": "nominal", "scale": {"type": "point", "domain": ["TBI+HMPBE", "Sham+HMPBE", "TBI"], "range": [45, 80], "padding": 0}, "axis": null},
        "text": {"field": "text"}
      }
    },
    {
      "layer": [
        {"data": {"name": "bnd"}, "transform": [{"filter": "datum.blot === 'C'"}],
          "mark": {"type": "rule", "strokeWidth": 3, "color": "#000"},
          "encoding": {"x": {"field": "b", "type": "quantitative", "scale": {"domain": [0.5, 9.5], "range": [257, 1136]}, "axis": null},
            "y": {"datum": 0, "type": "quantitative", "scale": {"domain": [0, 1], "range": [1342, 1424]}, "axis": null},
            "y2": {"datum": 1}}},
        {"data": {"values": [{}]},
          "mark": {"type": "rule", "strokeWidth": 3, "color": "#000"},
          "encoding": {"x": {"datum": 0.5, "type": "quantitative", "scale": {"domain": [0.5, 9.5], "range": [257, 1136]}, "axis": null},
            "x2": {"datum": 9.5},
            "y": {"datum": 0.512, "type": "quantitative", "scale": {"domain": [0, 1], "range": [1342, 1424]}, "axis": null}}}
      ]
    },
    {
      "data": {"name": "hdr"}, "transform": [{"filter": "datum.blot === 'C'"}],
      "mark": {"type": "text", "fontSize": 33, "fontWeight": "bold", "lineHeight": 48, "baseline": "middle", "align": "center", "color": "#111"},
      "encoding": {
        "x": {"field": "lane", "type": "quantitative", "scale": {"domain": [0.5, 9.5], "range": [257, 1136]}, "axis": null},
        "y": {"field": "group", "type": "nominal", "scale": {"type": "point", "domain": ["TBI+HMPBE", "Sham+HMPBE", "TBI"], "range": [1303, 1329], "padding": 0}, "axis": null},
        "text": {"field": "text"}
      }
    }
  ]
}
